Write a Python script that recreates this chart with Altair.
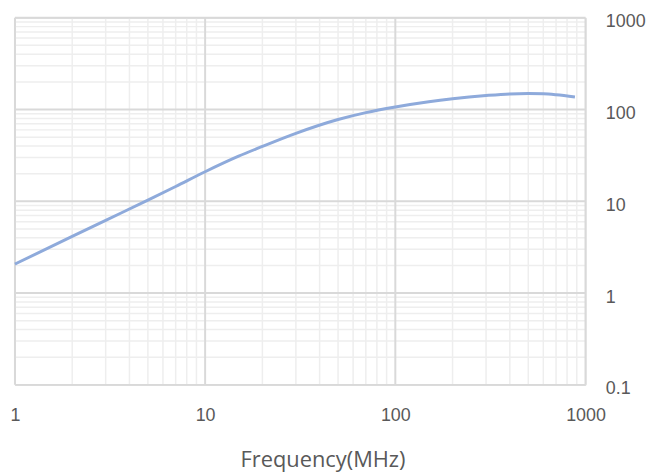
import altair as alt
import pandas as pd

freq = [1, 2, 3, 5, 7, 10, 15, 20, 30, 50, 70, 100, 150, 200, 300, 400, 500, 600, 700, 880]
imp = [2.07, 4.14, 6.2, 10.3, 14.5, 21, 31, 39.6, 55, 77.8, 92.6, 106.7, 121.7, 131, 142, 148, 149.5, 148.5, 145, 137]

x_major = [1, 10, 100, 1000]
x_minor = [2, 3, 4, 5, 6, 7, 8, 9, 20, 30, 40, 50, 60, 70, 80, 90, 200, 300, 400, 500, 600, 700, 800, 900]
y_major = [0.1, 1, 10, 100, 1000]
y_minor = [0.2, 0.3, 0.4, 0.5, 0.6, 0.7, 0.8, 0.9, 2, 3, 4, 5, 6, 7, 8, 9,
           20, 30, 40, 50, 60, 70, 80, 90, 200, 300, 400, 500, 600, 700, 800, 900]

xs = alt.Scale(type="log", domain=[1, 1000], nice=False)
ys = alt.Scale(type="log", domain=[0.1, 1000], nice=False)

FONT = "Open Sans"
LFONT = "Liberation Sans"
LBL = "#595959"

xaxis = alt.Axis(values=x_major, format="~g", grid=False, domain=False, ticks=False,
                 labelFont=LFONT, labelFontSize=18, labelColor=LBL, labelPadding=36,
                 labelBaseline="alphabetic", labelFlush=False, labelOverlap=False,
                 titleFont=FONT, titleFontSize=22, titleColor=LBL, titleFontWeight="normal",
                 titleBaseline="alphabetic", titleX=310, titleY=82)
yaxis = alt.Axis(orient="right", values=y_major, format="~g", grid=False, domain=False, ticks=False,
                 labelFont=LFONT, labelFontSize=18, labelColor=LBL, labelPadding=20,
                 labelAlign="left", labelBaseline="alphabetic", labelOffset=9,
                 labelFlush=False, labelOverlap=False)

XT = "Frequency(MHz)"

df = pd.DataFrame({"f": freq, "z": imp})

xminor = alt.Chart(pd.DataFrame({"v": x_minor})).mark_rule(color="#eeeeee", strokeWidth=1.5).encode(
    x=alt.X("v:Q", scale=xs, axis=xaxis, title=XT))
yminor = alt.Chart(pd.DataFrame({"v": y_minor})).mark_rule(color="#eeeeee", strokeWidth=1.5).encode(
    y=alt.Y("v:Q", scale=ys, axis=yaxis, title=None))
xmajor = alt.Chart(pd.DataFrame({"v": x_major})).mark_rule(color="#d9d9d9", strokeWidth=2).encode(
    x=alt.X("v:Q", scale=xs, axis=xaxis, title=XT))
ymajor = alt.Chart(pd.DataFrame({"v": y_major})).mark_rule(color="#d9d9d9", strokeWidth=2).encode(
    y=alt.Y("v:Q", scale=ys, axis=yaxis, title=None))

line = alt.Chart(df).mark_line(color="#8eaadb", strokeWidth=3, interpolate="monotone").encode(
    x=alt.X("f:Q", scale=xs, title=XT, axis=xaxis),
    y=alt.Y("z:Q", scale=ys, title=None, axis=yaxis),
)

chart = alt.layer(xminor, yminor, xmajor, ymajor, line).properties(
    width=575, height=370,
    autosize=alt.AutoSizeParams(type="none"),
    padding={"left": 7, "top": 8, "right": 65, "bottom": 86},
).configure_view(stroke="#d9d9d9", strokeWidth=2).configure(background="white")

chart.save("out.html", embed_options={"renderer": "svg", "actions": False})
